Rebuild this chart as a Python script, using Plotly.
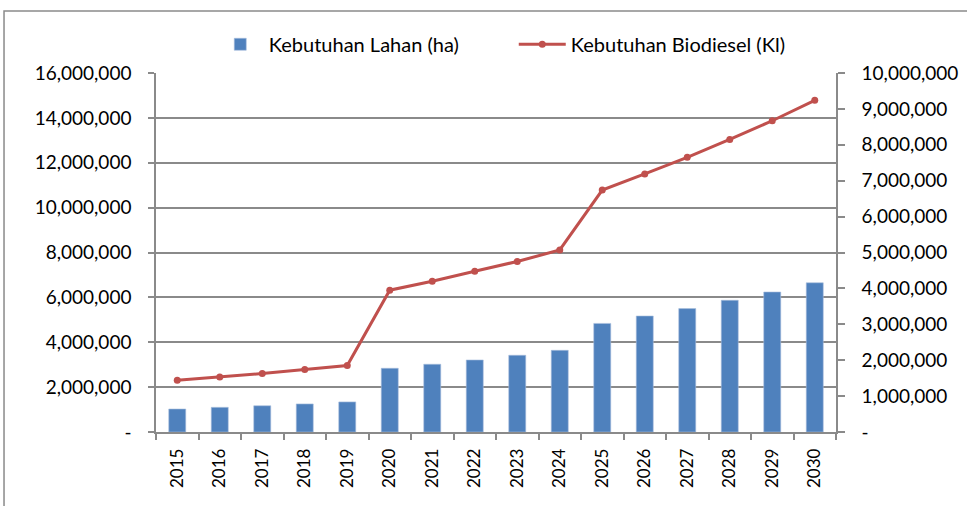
import plotly.graph_objects as go

years = [str(y) for y in range(2015, 2031)]
lahan_ha = [1025000, 1100000, 1170000, 1250000, 1340000, 2840000, 3020000, 3210000,
            3420000, 3640000, 4840000, 5170000, 5500000, 5870000, 6240000, 6650000]
biodiesel_kl = [1440000, 1530000, 1630000, 1740000, 1850000, 3950000, 4200000, 4480000,
                4750000, 5070000, 6740000, 7190000, 7650000, 8150000, 8670000, 9240000]

left_tickvals = [0, 2e6, 4e6, 6e6, 8e6, 10e6, 12e6, 14e6, 16e6]
left_ticktext = ["-", "2,000,000", "4,000,000", "6,000,000", "8,000,000",
                 "10,000,000", "12,000,000", "14,000,000", "16,000,000"]
right_tickvals = [i * 1e6 for i in range(11)]
right_ticktext = ["-"] + ["{:,}".format(i * 1000000) for i in range(1, 11)]

GRID = "#8a8a8a"
FONT = "Lato"

fig = go.Figure()
fig.add_trace(go.Bar(
    x=years, y=lahan_ha, name="Kebutuhan Lahan (ha)",
    marker=dict(color="#4F81BD", line=dict(color="#a9c0de", width=0.6)),
    width=0.4, yaxis="y"))
fig.add_trace(go.Scatter(
    x=years, y=biodiesel_kl, name="Kebutuhan Biodiesel (Kl)",
    mode="lines+markers", line=dict(color="#C0504D", width=3),
    marker=dict(color="#C0504D", size=7), yaxis="y2"))

fig.update_layout(
    width=967, height=506,
    margin=dict(l=156, r=131, t=73, b=74, autoexpand=False),
    paper_bgcolor="white", plot_bgcolor="white",
    font=dict(family=FONT, size=19, color="black"),
    showlegend=True,
    legend=dict(orientation="h", x=0.082, xanchor="left", y=1.08, yanchor="middle",
                font=dict(family=FONT, size=20), itemwidth=47,
                entrywidth=240, entrywidthmode="pixels", traceorder="normal"),
    xaxis=dict(type="category", tickangle=-90, showgrid=False, automargin=False,
               tickfont=dict(size=17), range=[-0.5, 15.5],
               showline=True, linecolor=GRID, linewidth=1.5,
               ticks="outside", ticklen=6, tickcolor=GRID, tickwidth=1.5,
               tickson="boundaries", ticklabelstandoff=8),
    yaxis=dict(range=[0, 16e6], tickvals=left_tickvals, ticktext=left_ticktext,
               showgrid=True, gridcolor=GRID, gridwidth=1.6, automargin=False,
               showline=True, linecolor=GRID, linewidth=1.5,
               ticks="outside", ticklen=6, tickcolor=GRID, tickwidth=1.5,
               zeroline=False, ticklabelstandoff=13),
    yaxis2=dict(range=[0, 10e6], tickvals=right_tickvals, ticktext=right_ticktext,
                overlaying="y", side="right", showgrid=False, automargin=False,
                showline=True, linecolor=GRID, linewidth=1.5,
                ticks="outside", ticklen=7, tickcolor=GRID, tickwidth=1.5,
                zeroline=False, ticklabelstandoff=13),
    shapes=[dict(type="rect", xref="paper", yref="paper",
                 x0=-0.2235, x1=1.2, y0=-0.22, y1=1.1727,
                 line=dict(color="#8a8a8a", width=1.5), fillcolor="rgba(0,0,0,0)",
                 layer="below")],
)

fig.write_html("out.html", config={"displayModeBar": False},
               post_script="document.body.style.margin='0px';")
